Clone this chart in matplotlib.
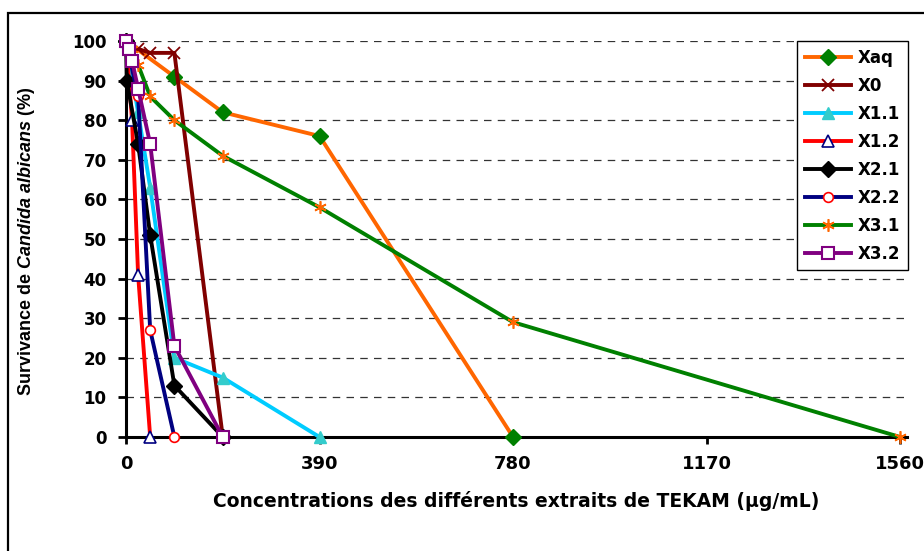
import matplotlib
matplotlib.use("Agg")
import matplotlib.pyplot as plt
from matplotlib.patches import Rectangle

plt.rcParams['font.family'] = ['DejaVu Sans']
plt.rcParams['mathtext.fontset'] = 'custom'
plt.rcParams['mathtext.it'] = 'Liberation Sans:italic:bold'
plt.rcParams['mathtext.rm'] = 'Liberation Sans:bold'

# concentrations (ug/mL) and survival (%)
xaq_x = [0, 97.5, 195, 390, 780]
xaq_y = [100, 91, 82, 76, 0]
x0_x = [0, 24.375, 48.75, 97.5, 195]
x0_y = [100, 98, 97, 97, 0]
x11_x = [0, 24.375, 48.75, 97.5, 195, 390]
x11_y = [100, 82, 63, 20, 15, 0]
x12_x = [0, 12.19, 24.375, 48.75]
x12_y = [100, 80, 41, 0]
x21_x = [0, 1.52, 24.375, 48.75, 97.5, 195]
x21_y = [100, 90, 74, 51, 13, 0]
x22_x = [0, 24.375, 48.75, 97.5]
x22_y = [100, 86, 27, 0]
x31_x = [0, 12.19, 24.375, 48.75, 97.5, 195, 390, 780, 1560]
x31_y = [100, 98, 94, 86, 80, 71, 58, 29, 0]
x32_x = [0, 6.09, 12.19, 24.375, 48.75, 97.5, 195]
x32_y = [100, 98, 95, 88, 74, 23, 0]

xticks = [0, 390, 780, 1170, 1560]
yticks = list(range(0, 101, 10))

fig = plt.figure(figsize=(9.24, 5.51), dpi=100)
ax = fig.add_axes([126/924, 1 - 437/551, 781/924, 396/551])

# outer frame of the chart (cut off on the right and bottom)
fig.patches.append(Rectangle((8/924, -0.1), 1.2, (551-13)/551 + 0.1,
                             transform=fig.transFigure, fill=False,
                             edgecolor='black', linewidth=1.6))

lw = 2.8
series = [
    ('Xaq', xaq_x, xaq_y, dict(color='#FF6600', marker='D', mfc='#008000', mec='#008000', ms=8)),
    ('X0', x0_x, x0_y, dict(color='#800000', marker='x', mfc='#800000', mec='#800000', ms=8.5, mew=1.3)),
    ('X1.1', x11_x, x11_y, dict(color='#00CCFF', marker='^', mfc='#33CCCC', mec='#33CCCC', ms=9)),
    ('X1.2', x12_x, x12_y, dict(color='#FF0000', marker='^', mfc='white', mec='#000080', ms=9, mew=1.2)),
    ('X2.1', x21_x, x21_y, dict(color='black', marker='D', mfc='black', mec='black', ms=8.5)),
    ('X2.2', x22_x, x22_y, dict(color='#000080', marker='o', mfc='white', mec='#FF0000', ms=7, mew=1.2)),
    ('X3.1', x31_x, x31_y, dict(color='#008000', marker=(6, 2, 0), mfc='#FF6600', mec='#FF6600', ms=9, mew=1.2)),
    ('X3.2', x32_x, x32_y, dict(color='#800080', marker='s', mfc='white', mec='#800080', ms=8.5, mew=1.5)),
]
for i, (name, xs, ys, st) in enumerate(series):
    ax.plot(xs, ys, lw=lw, label=name, clip_on=False, zorder=3 + i, **st)

ax.set_xlim(0, 1574)
ax.set_ylim(0, 100)
ax.set_xticks(xticks)
ax.set_yticks(yticks)
ax.set_xticklabels([str(t) for t in xticks], fontsize=13, fontweight='bold')
ax.set_yticklabels([str(t) for t in yticks], fontsize=12, fontweight='bold')
ax.tick_params(axis='x', direction='out', length=5, width=2, pad=8)
ax.tick_params(axis='y', direction='out', length=6, width=2, pad=8)

for v in yticks[1:]:
    ax.axhline(v, color='#333333', lw=0.9, dashes=(6, 5), zorder=1)

for s in ['top', 'right']:
    ax.spines[s].set_visible(False)
for s in ['left', 'bottom']:
    ax.spines[s].set_linewidth(2.2)
    ax.spines[s].set_zorder(2)

ax.set_xlabel('Concentrations des différents extraits de TEKAM (µg/mL)',
              fontsize=13.5, fontweight='bold')
ax.xaxis.label.set_va('center')
ax.xaxis.set_label_coords(0.5, -0.162)
ax.set_ylabel(r'Survivance de $Candida\ albicans$ (%)', fontsize=13,
              fontweight='bold', family='Liberation Sans')
ax.yaxis.label.set_va('center')
ax.yaxis.set_label_coords(-0.127, 0.495)

leg = ax.legend(loc='upper right', bbox_to_anchor=(908/924, 1 - 41/551),
                bbox_transform=fig.transFigure, numpoints=1, fancybox=False,
                edgecolor='black', framealpha=1, borderpad=0.45, borderaxespad=0,
                handlelength=2.8, labelspacing=0.6, handletextpad=0.4,
                prop={'weight': 'bold', 'size': 12})
leg.get_frame().set_linewidth(1)
leg.set_zorder(20)

fig.savefig('out.png', dpi=100)
